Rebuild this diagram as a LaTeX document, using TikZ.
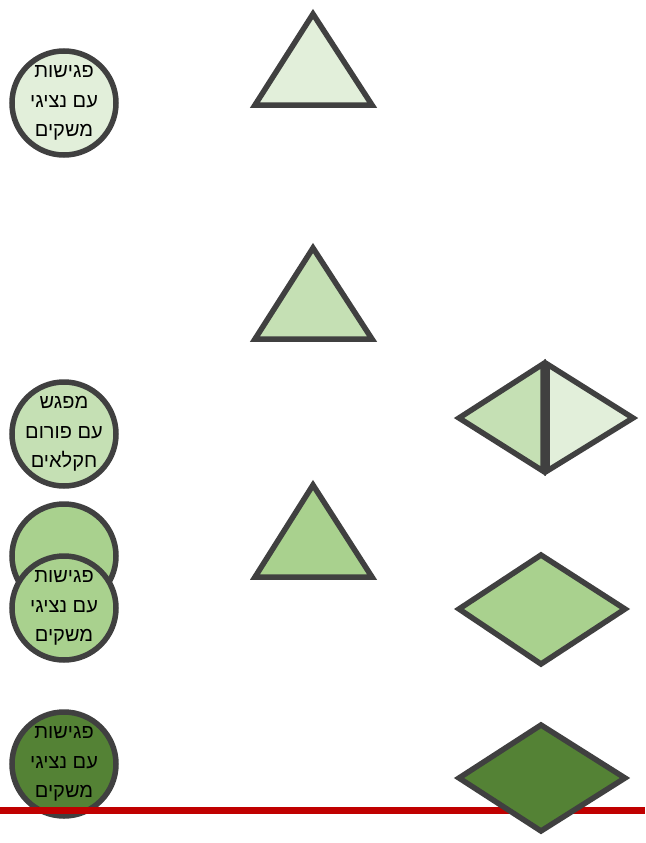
\documentclass[tikz,border=0pt]{standalone}
\usepackage{fontspec}
\TeXXeTstate=1
\newfontfamily\hebfont[Script=Hebrew]{Liberation Sans}
\definecolor{gA}{HTML}{E2EFDA}
\definecolor{gB}{HTML}{C5E0B4}
\definecolor{gC}{HTML}{A9D18E}
\definecolor{gD}{HTML}{548235}
\definecolor{edge}{HTML}{404040}
\definecolor{redline}{HTML}{C00000}
\tikzset{
  shp/.style={draw=edge, line width=5.5pt, line join=miter},
  circ/.style={shp, circle, minimum size=104pt, inner sep=0pt},
  lbl/.style={font=\hebfont\fontsize{20}{29.5}\selectfont, align=center, text=black},
}
\newcommand{\rl}[1]{\beginR #1\endR}
\begin{document}
\begin{tikzpicture}[x=1pt,y=-1pt]
\useasboundingbox (0,0) rectangle (645,843);
% circles
\node[circ, fill=gA] (c1) at (64,103) {};
\node[lbl] (t1) at (c1.center) {\rl{פגישות}\\\rl{עם נציגי}\\\rl{משקים}};
\node[circ, fill=gB] (c2) at (64,434) {};
\node[lbl] (t2) at (c2.center) {\rl{מפגש}\\\rl{עם פורום}\\\rl{חקלאים}};
\node[circ, fill=gC] (c3) at (64,556) {};
\node[circ, fill=gC] (c4) at (64,608) {};
\node[lbl] (t4) at (c4.center) {\rl{פגישות}\\\rl{עם נציגי}\\\rl{משקים}};
\node[circ, fill=gD] (c5) at (64,764) {};
\node[lbl] (t5) at (c5.center) {\rl{פגישות}\\\rl{עם נציגי}\\\rl{משקים}};
% triangles
\draw[shp, fill=gA] (313,14) -- (372,105) -- (255,105) -- cycle;
\draw[shp, fill=gB] (313,248) -- (372,339) -- (255,339) -- cycle;
\draw[shp, fill=gC] (313,485) -- (372,577) -- (255,577) -- cycle;
% split diamond
\draw[shp, fill=gB] (543,364) -- (543,471) -- (459,418) -- cycle;
\draw[shp, fill=gA] (547,364) -- (633,418) -- (547,471) -- cycle;
% diamonds
\draw[shp, fill=gC] (541,555) -- (625,609) -- (541,664) -- (459,609) -- cycle;
% red line
\coordinate (rl0) at (0,810);
\coordinate (rl1) at (645,810);
\draw[redline, line width=7pt] (rl0) -- (rl1);
\draw[shp, fill=gD] (541,725) -- (625,778) -- (541,831) -- (459,778) -- cycle;
\end{tikzpicture}
\end{document}
